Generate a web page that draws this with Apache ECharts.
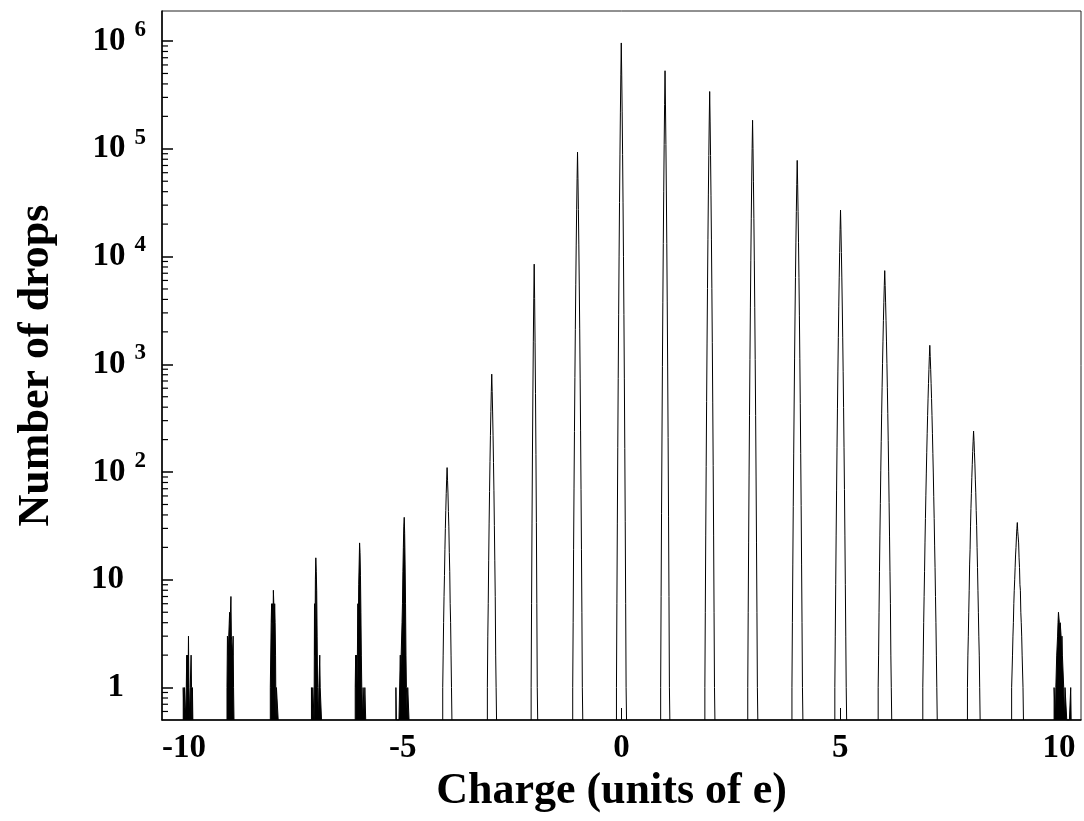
<!DOCTYPE html>
<html>
<head>
<meta charset="utf-8">
<script src="https://cdn.jsdelivr.net/npm/echarts@6/dist/echarts.min.js"></script>
<style>
html,body{margin:0;padding:0;background:#fff;}
#chart{width:1084px;height:821px;}
</style>
</head>
<body>
<div id="chart"></div>
<script>
// ---------------- data ----------------
const charges = [-10, -9, -8, -7, -6, -5, -4, -3, -2, -1, 0, 1, 2, 3, 4, 5, 6, 7, 8, 9, 10];
const binWidth = 0.01;                 // histogram bin width (units of e)
// index (in bins, relative to the integer charge) of the first listed bin of each peak
const firstBin = [-1, -1, -2, -8, -8, -15, -8, -6, -6, -11, -11, -10, -9, -11, -10, -12, -13, -11, -9, -8, -11];
// bin contents of each peak
const countsM10 = [1,1,0,1,1,1,0,1,2,1,2,1,3,1,1,0,1,1,2,1,0,1];
const countsM9  = [1,3,3,2,3,3,5,4,5,7,3,3,3,2,3,1];
const countsM8  = [1,1,4,6,4,6,3,8,6,4,6,4,2,0,1,1,1,1];
const countsM7  = [1,1,0,1,1,1,0,6,2,10,16,12,8,3,1,1,0,1,1,2,1,1,1];
const countsM6  = [1,2,1,2,1,2,6,3,9,14,22,18,11,5,2,1,1,0,1,1,1,0,1,1];
const countsM5  = [1,0,0,0,0,0,0,0,0,0,2,1,2,2,4,6,12,20,31,38,27,14,6,2,1,1,0,1,1,1];
const countsM4  = [1,2,4,7,11,19,30,44,63,86,110,84,64,43,31,18,12,6,4,2,1];
const countsM3  = [1,3,6,15,33,66,125,218,363,558,810,562,361,220,123,67,32,15,7,2,1];
const countsM2  = [1,6,33,147,530,1615,4050,8500,4070,1605,534,145,34,6,1];
const countsM1  = [1,4,19,71,238,752,2110,5460,12780,27150,52800,93000,52600,27250,12820,5440,2130,745,241,69,19,5,1];
const counts0   = [1,6,33,170,740,2880,10100,31700,87700,219000,485000,960000,483000,220000,88100,31500,10050,2900,732,166,35,6,1];
const countsP1  = [1,7,41,207,950,3770,13200,40400,109000,257000,530000,255000,109500,40600,13150,3790,944,209,39,7,1];
const countsP2  = [1,5,26,113,450,1575,5050,14480,37300,86400,181200,340000,180800,86600,37100,14520,5030,1585,446,115,26,5,1];
const countsP3  = [1,5,22,92,333,1112,3335,9130,22380,50200,100900,184000,101100,50050,22420,9110,3345,1108,335,90,22,5,1];
const countsP4  = [1,4,14,48,150,428,1142,2805,6390,13380,26150,46850,78000,46950,26050,13420,6370,2815,1138,431,148,49,14,4,1];
const countsP5  = [1,3,9,26,68,170,392,865,1775,3465,6350,10880,17730,27000,17670,10920,6330,3475,1785,861,396,168,69,26,9,3,1];
const countsP6  = [1,2,5,12,26,51,104,193,352,610,1022,1638,2545,3765,5385,7400,5375,3775,2535,1642,1018,612,350,195,102,52,25,12,6,2,1];
const countsP7  = [1,2,4,7,12,22,37,61,96,151,227,336,478,665,896,1182,1500,1178,899,662,481,334,229,149,98,59,37,21,13,7,4,2,1];
const countsP8  = [1,2,3,5,8,14,19,31,46,63,89,117,155,193,240,197,151,119,86,65,44,32,20,13,8,5,3,2,1];
const countsP9  = [1,1,2,3,4,6,8,10,13,17,20,25,30,34,28,25,22,16,13,9,8,5,4,3,2,2,1];
const countsP10 = [1,1,1,0,1,1,2,2,3,4,5,5,4,3,4,4,3,2,3,2,2,2,1,1,0,1,1,1,1,0,0,0,0,0,0,0,0,0,1];
const peakCounts = [countsM10, countsM9, countsM8, countsM7, countsM6, countsM5, countsM4, countsM3, countsM2, countsM1,
                    counts0, countsP1, countsP2, countsP3, countsP4, countsP5, countsP6, countsP7, countsP8, countsP9, countsP10];

const xTickValues = [-10, -5, 0, 5, 10];
const yTickValues = [1, 10, 100, 1000, 10000, 100000, 1000000];
const yMinorValues = [0.6, 0.7, 0.8, 0.9,
  2, 3, 4, 5, 6, 7, 8, 9,
  20, 30, 40, 50, 60, 70, 80, 90,
  200, 300, 400, 500, 600, 700, 800, 900,
  2000, 3000, 4000, 5000, 6000, 7000, 8000, 9000,
  20000, 30000, 40000, 50000, 60000, 70000, 80000, 90000,
  200000, 300000, 400000, 500000, 600000, 700000, 800000, 900000];

const xMin = -10.5, xMax = 10.5;
const yMin = 0.5, yMax = 1.9e6;
// peaks drawn as dense (filled) blobs, like the sparse low-count peaks in the picture
const filledCharges = [-10, -9, -8, -7, -6, -5, 10];

// ---------------- chart ----------------
const FONT = "'Liberation Serif', 'Times New Roman', serif";
const GRID = { left: 162, right: 3, top: 11, bottom: 101 };
const W = 1084;

function peakPoints(q, start, arr) {
  const edge = i => +(q + (start + i - 0.5) * binWidth).toFixed(5);
  const pts = [[edge(0), yMin]];
  arr.forEach((c, i) => pts.push([edge(i), c > 0 ? c : yMin]));
  pts.push([edge(arr.length), yMin]);
  return pts;
}

const series = charges.map((q, k) => {
  const s = {
    type: 'line',
    name: 'q' + q,
    step: 'end',
    data: peakPoints(q, firstBin[k], peakCounts[k]),
    symbol: 'none',
    showSymbol: false,
    silent: true,
    animation: false,
    lineStyle: { color: '#000', width: 1 },
    z: 3
  };
  if (filledCharges.includes(q)) {
    s.areaStyle = { color: '#000', opacity: 1, origin: 'start' };
  }
  return s;
});

// minor ticks of the logarithmic y axis: short segments placed through the axis scales (one series each)
const minorLenPx = 6;
const minorDx = (xMax - xMin) * minorLenPx / (W - GRID.left - GRID.right);
yMinorValues.forEach((v, i) => {
  series.push({
    type: 'line',
    name: 'minorTick' + i,
    data: [[xMin, v], [xMin + minorDx, v]],
    symbol: 'none',
    showSymbol: false,
    silent: true,
    animation: false,
    clip: false,
    lineStyle: { color: '#000', width: 1.2 },
    z: 6
  });
});

const labelRich = {
  b:  { fontFamily: FONT, fontWeight: 'bold', fontSize: 33, color: '#000', lineHeight: 50, verticalAlign: 'middle' },
  bp: { fontFamily: FONT, fontWeight: 'bold', fontSize: 33, color: '#000', lineHeight: 50, verticalAlign: 'middle', padding: [0, 22, 0, 0] },
  s:  { fontFamily: FONT, fontWeight: 'bold', fontSize: 23, color: '#000', lineHeight: 22, verticalAlign: 'middle', padding: [0, 0, 22, 9] }
};

const option = {
  backgroundColor: '#fff',
  animation: false,
  grid: {
    left: GRID.left, right: GRID.right, top: GRID.top, bottom: GRID.bottom,
    show: true, borderColor: '#222', borderWidth: 1, backgroundColor: 'transparent',
    containLabel: false, outerBoundsMode: 'none'
  },
  xAxis: {
    type: 'value',
    min: xMin, max: xMax,
    axisLine: { show: true, onZero: false, lineStyle: { color: '#000', width: 1.5 } },
    axisTick: { show: true, inside: true, length: 12, customValues: xTickValues, lineStyle: { color: '#000', width: 1 } },
    axisLabel: { customValues: xTickValues, fontFamily: FONT, fontWeight: 'bold', fontSize: 33, color: '#000', margin: 12,
                 formatter: v => String(v) },
    splitLine: { show: false },
    name: 'Charge (units of e)',
    nameLocation: 'middle',
    nameGap: 70,
    nameTextStyle: { fontFamily: FONT, fontWeight: 'bold', fontSize: 44, color: '#000', verticalAlign: 'middle', padding: [0, 20, 0, 0] }
  },
  yAxis: {
    type: 'log', logBase: 10,
    min: yMin, max: yMax,
    position: 'left',
    axisLine: { show: true, onZero: false, lineStyle: { color: '#000', width: 1.5 } },
    axisTick: { show: true, inside: true, length: 11, customValues: yTickValues, lineStyle: { color: '#000', width: 1.5 } },
    axisLabel: {
      customValues: yTickValues, margin: 16, align: 'right',
      formatter: v => {
        const e = Math.round(Math.log10(v));
        if (e === 0) return '{bp|1}';
        if (e === 1) return '{bp|10}';
        return '{b|10}{s|' + e + '}';
      },
      rich: labelRich
    },
    splitLine: { show: false },
    minorTick: { show: false },
    name: 'Number of drops',
    nameLocation: 'middle',
    nameGap: 125,
    nameTextStyle: { fontFamily: FONT, fontWeight: 'bold', fontSize: 44, color: '#000', verticalAlign: 'middle' }
  },
  series: series
};

const chart = echarts.init(document.getElementById('chart'), null, { renderer: 'canvas', width: W, height: 821 });
chart.setOption(option);
</script>
</body>
</html>
